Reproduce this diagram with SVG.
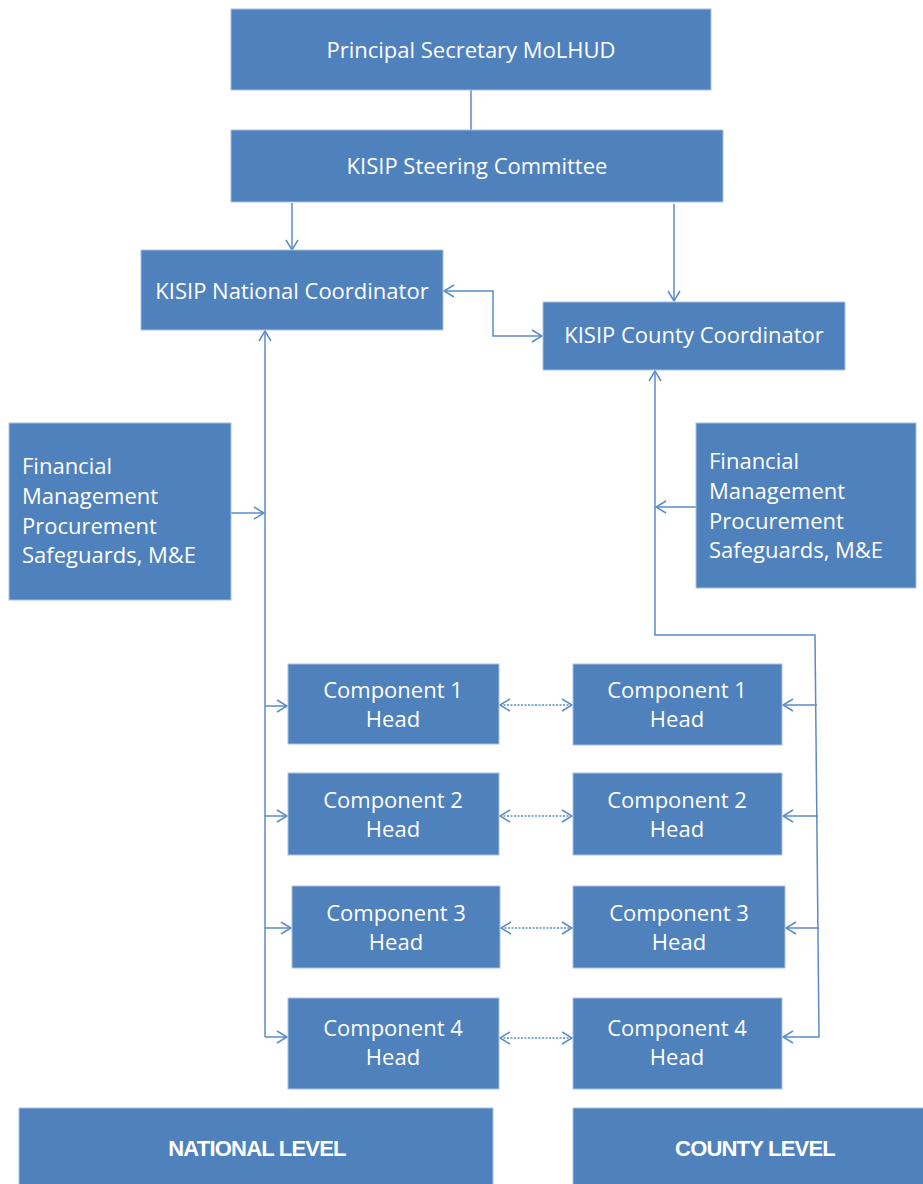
<svg xmlns="http://www.w3.org/2000/svg" width="923" height="1184" viewBox="0 0 923 1184">
<style>
.box{fill:#4F81BD;stroke:#A9C1DE;stroke-width:1}
.t{fill:#FFFFFF;font-family:"Open Sans","Liberation Sans",sans-serif;font-size:22px;text-anchor:middle}
.tl{fill:#FFFFFF;font-family:"Open Sans","Liberation Sans",sans-serif;font-size:22px}
.tb{fill:#FFFFFF;font-family:"Liberation Sans",sans-serif;font-size:22px;font-weight:bold;text-anchor:middle;letter-spacing:-0.8px}
.c{fill:none;stroke:#5B8BC9;stroke-width:1.5}
.d{fill:none;stroke:#5B8BC9;stroke-width:1.5;stroke-dasharray:2,1.5}
</style>
<defs>
<marker id="ah" viewBox="0 0 12 14" refX="11" refY="7" markerWidth="12" markerHeight="14" markerUnits="userSpaceOnUse" orient="auto-start-reverse">
<path d="M1,1 L11,7 L1,13" fill="none" stroke="#5B8BC9" stroke-width="1.5"/>
</marker>
</defs>
<g id="connectors">
<line class="c" x1="471" y1="90" x2="471" y2="130"/>
<line class="c" x1="292" y1="203" x2="292" y2="250" marker-end="url(#ah)"/>
<line class="c" x1="674" y1="204" x2="674" y2="301" marker-end="url(#ah)"/>
<polyline class="c" points="444,291 493,291 493,336 542,336" marker-start="url(#ah)" marker-end="url(#ah)"/>
<line class="c" x1="265" y1="1037" x2="265" y2="331" marker-end="url(#ah)"/>
<line class="c" x1="231" y1="513" x2="264" y2="513" marker-end="url(#ah)"/>
<line class="c" x1="265" y1="706" x2="287" y2="706" marker-end="url(#ah)"/>
<line class="c" x1="265" y1="816" x2="287" y2="816" marker-end="url(#ah)"/>
<line class="c" x1="265" y1="928" x2="291" y2="928" marker-end="url(#ah)"/>
<line class="c" x1="265" y1="1037" x2="287" y2="1037" marker-end="url(#ah)"/>
<polyline class="c" points="655,371 655,635 815,635 819,1037 783,1037" marker-start="url(#ah)" marker-end="url(#ah)"/>
<line class="c" x1="696" y1="507" x2="656" y2="507" marker-end="url(#ah)"/>
<line class="c" x1="817" y1="705" x2="783" y2="705" marker-end="url(#ah)"/>
<line class="c" x1="818" y1="816" x2="783" y2="816" marker-end="url(#ah)"/>
<line class="c" x1="819" y1="928" x2="786" y2="928" marker-end="url(#ah)"/>
<line class="d" x1="500" y1="705" x2="572" y2="705" marker-start="url(#ah)" marker-end="url(#ah)"/>
<line class="d" x1="500" y1="816" x2="572" y2="816" marker-start="url(#ah)" marker-end="url(#ah)"/>
<line class="d" x1="501" y1="928" x2="572" y2="928" marker-start="url(#ah)" marker-end="url(#ah)"/>
<line class="d" x1="500" y1="1038" x2="572" y2="1038" marker-start="url(#ah)" marker-end="url(#ah)"/>
</g>
<g id="ps"><rect class="box" x="231" y="9" width="480" height="81"/><text class="t" x="471" y="58">Principal Secretary MoLHUD</text></g>
<g id="sc"><rect class="box" x="231" y="130" width="492" height="72"/><text class="t" x="477" y="174">KISIP Steering Committee</text></g>
<g id="nc"><rect class="box" x="141" y="250" width="302" height="80"/><text class="t" x="292" y="299">KISIP National Coordinator</text></g>
<g id="cc"><rect class="box" x="543" y="302" width="302" height="68"/><text class="t" x="694" y="343">KISIP County Coordinator</text></g>
<g id="fin-n"><rect class="box" x="9" y="423" width="222" height="177"/>
<text class="tl" x="22" y="474">Financial</text><text class="tl" x="22" y="504">Management</text><text class="tl" x="22" y="534">Procurement</text><text class="tl" x="22" y="563">Safeguards, M&amp;E</text></g>
<g id="fin-c"><rect class="box" x="696" y="423" width="220" height="165"/>
<text class="tl" x="709" y="469">Financial</text><text class="tl" x="709" y="499">Management</text><text class="tl" x="709" y="529">Procurement</text><text class="tl" x="709" y="558">Safeguards, M&amp;E</text></g>
<g id="n1"><rect class="box" x="288" y="664" width="211" height="80"/><text class="t" x="393" y="698">Component 1</text><text class="t" x="393" y="727">Head</text></g>
<g id="n2"><rect class="box" x="288" y="773" width="211" height="82"/><text class="t" x="393" y="808">Component 2</text><text class="t" x="393" y="837">Head</text></g>
<g id="n3"><rect class="box" x="292" y="886" width="208" height="82"/><text class="t" x="396" y="921">Component 3</text><text class="t" x="396" y="950">Head</text></g>
<g id="n4"><rect class="box" x="288" y="998" width="211" height="91"/><text class="t" x="393" y="1036">Component 4</text><text class="t" x="393" y="1065">Head</text></g>
<g id="c1"><rect class="box" x="573" y="664" width="209" height="81"/><text class="t" x="677" y="698">Component 1</text><text class="t" x="677" y="727">Head</text></g>
<g id="c2"><rect class="box" x="573" y="773" width="209" height="82"/><text class="t" x="677" y="808">Component 2</text><text class="t" x="677" y="837">Head</text></g>
<g id="c3"><rect class="box" x="573" y="886" width="212" height="82"/><text class="t" x="679" y="921">Component 3</text><text class="t" x="679" y="950">Head</text></g>
<g id="c4"><rect class="box" x="573" y="998" width="209" height="91"/><text class="t" x="677" y="1036">Component 4</text><text class="t" x="677" y="1065">Head</text></g>
<g id="nl"><rect class="box" x="19" y="1108" width="474" height="80"/><text class="tb" x="257" y="1156">NATIONAL LEVEL</text></g>
<g id="cl"><rect class="box" x="573" y="1108" width="355" height="80"/><text class="tb" x="755" y="1156">COUNTY LEVEL</text></g>
</svg>
